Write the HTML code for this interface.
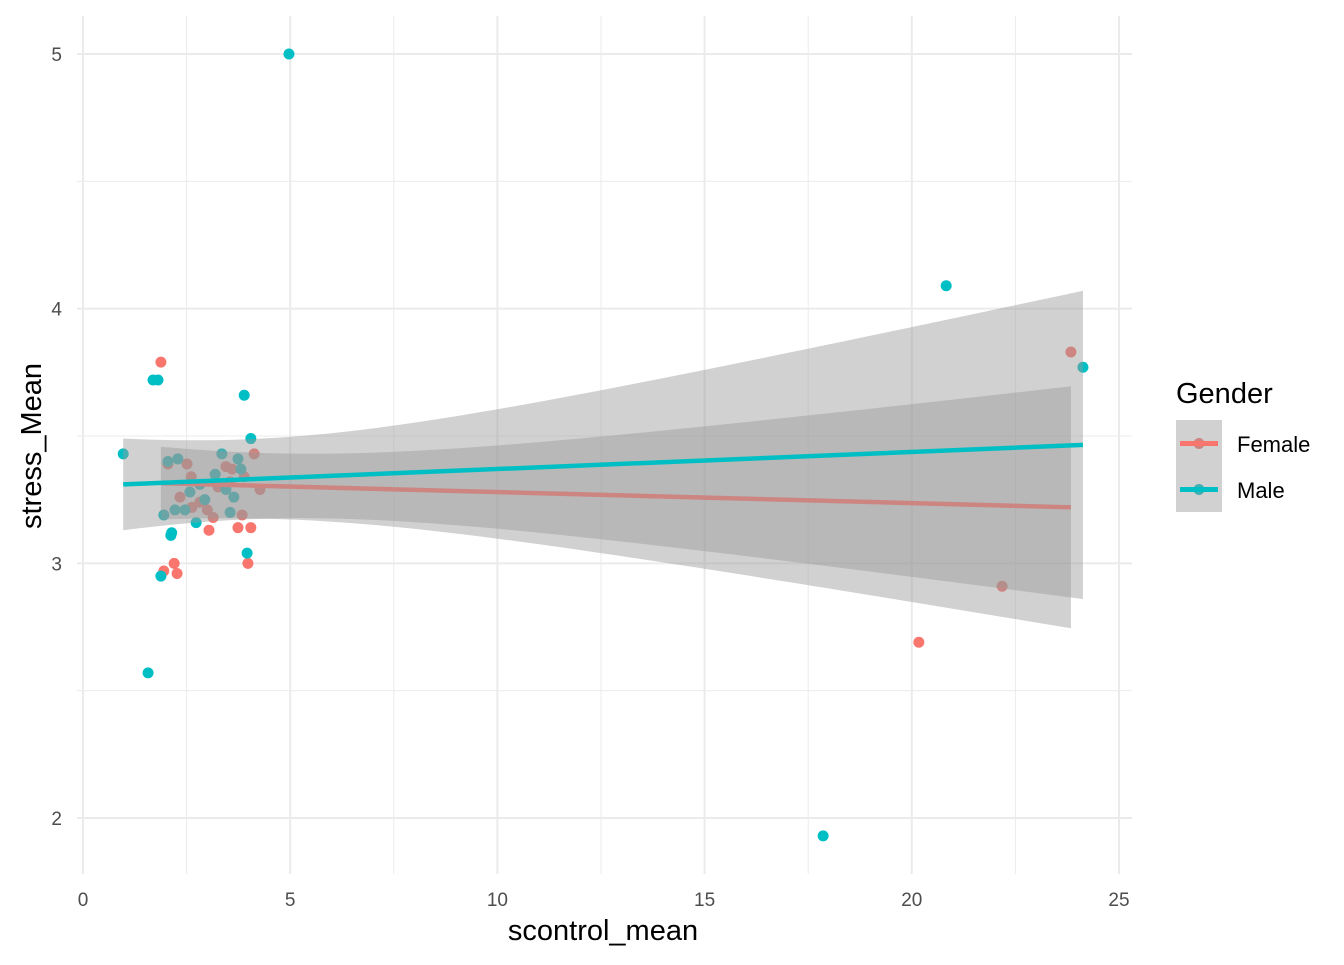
<!DOCTYPE html>
<html><head><meta charset="utf-8"><style>
body{margin:0;background:#fff;}
svg text{font-family:"Liberation Sans",Arial,sans-serif;}
</style></head><body>
<svg id="chart" width="1344" height="960" xmlns="http://www.w3.org/2000/svg">
<g id="grid"></g>
<g id="points"></g>
<g id="smooth"></g>
<g id="axes"></g>
<text x="603" y="940" font-size="29" text-anchor="middle" fill="#000">scontrol_mean</text>
<text transform="translate(41,446) rotate(-90)" font-size="29" text-anchor="middle" fill="#000">stress_Mean</text>
<g>
<text x="1176" y="403" font-size="29" fill="#000">Gender</text>
<rect x="1176" y="420" width="46" height="92" fill="#fff"/>
<g>
<circle cx="1199" cy="443.5" r="5.5" fill="#F8766D"/>
<rect x="1176" y="420" width="46" height="46" fill="rgba(153,153,153,0.45)"/>
<line x1="1180" y1="443.5" x2="1218" y2="443.5" stroke="#F8766D" stroke-width="5"/>
<text x="1237" y="452" font-size="22" fill="#000">Female</text></g>
<g>
<circle cx="1199" cy="489.5" r="5.5" fill="#00BFC4"/>
<rect x="1176" y="466" width="46" height="46" fill="rgba(153,153,153,0.45)"/>
<line x1="1180" y1="489.5" x2="1218" y2="489.5" stroke="#00BFC4" stroke-width="5"/>
<text x="1237" y="498" font-size="22" fill="#000">Male</text></g>
</g>
</svg>
<script>
const xTicks=[0,5,10,15,20,25];
const yTicks=[2,3,4,5];
const maleX=[0.97,4.97,20.83,24.13,17.86,1.57,1.69,1.81,3.89,4.05,3.96,1.88,2.12,1.95,2.05,2.29,3.35,3.74,3.81,2.73,3.55,3.64,2.22,2.46,3.19,2.94,2.58,2.82,3.45,2.14];
const maleY=[3.43,5.0,4.09,3.77,1.93,2.57,3.72,3.72,3.66,3.49,3.04,2.95,3.11,3.19,3.40,3.41,3.43,3.41,3.37,3.16,3.2,3.26,3.21,3.21,3.35,3.25,3.28,3.31,3.29,3.12];
const femaleX=[1.88,23.84,22.18,20.17,2.20,2.27,1.95,3.98,3.74,4.05,3.04,4.13,4.27,3.84,2.51,2.34,2.61,3.14,3.45,2.63,2.05,2.82,3.26,3.89,3.55,3.6,3.0];
const femaleY=[3.79,3.83,2.91,2.69,3.0,2.96,2.97,3.0,3.14,3.14,3.13,3.43,3.29,3.19,3.39,3.26,3.34,3.18,3.38,3.22,3.39,3.24,3.30,3.34,3.32,3.37,3.21];
// fitted lines: [x0,y0,x1,y1] and band params [a,b,center]
const maleLine=[0.97,3.31,24.13,3.465];
const femaleLine=[1.88,3.315,23.84,3.22];
const maleBand=[0.0247,0.000843,4.0];
const femaleBand=[0.0166,0.000559,4.5];

const X=v=>83+v*41.44, Y=v=>54+(5-v)*254.67;
const NS="http://www.w3.org/2000/svg";
function mk(t,a,p){const e=document.createElementNS(NS,t);for(const k in a)e.setAttribute(k,a[k]);p.appendChild(e);return e;}
const grid=document.getElementById('grid'),axes=document.getElementById('axes');
const L=77,R=1132,T=16,B=874;
for(let i=0;i<xTicks.length;i++){const v=xTicks[i];
 if(i<xTicks.length-1){const m=mk('line',{x1:X(v+2.5),x2:X(v+2.5),y1:T,y2:B,stroke:'#ebebeb','stroke-width':1},grid);}
 const g=mk('line',{x1:X(v),x2:X(v),y1:T,y2:B,stroke:'#ebebeb','stroke-width':2},grid);
 const t=mk('text',{x:X(v),y:906,'font-size':19,'text-anchor':'middle',fill:'#4d4d4d'},axes);t.textContent=v;}
for(let i=0;i<yTicks.length;i++){const v=yTicks[i];
 if(i<yTicks.length-1){const m=mk('line',{x1:L,x2:R,y1:Y(v+0.5),y2:Y(v+0.5),stroke:'#ebebeb','stroke-width':1},grid);}
 const g=mk('line',{x1:L,x2:R,y1:Y(v),y2:Y(v),stroke:'#ebebeb','stroke-width':2},grid);
 const t=mk('text',{x:62,y:Y(v)+7,'font-size':19,'text-anchor':'end',fill:'#4d4d4d'},axes);t.textContent=v;}
const pts=document.getElementById('points');
femaleX.forEach((x,i)=>{const c=mk('circle',{cx:X(x),cy:Y(femaleY[i]),r:5.5,fill:'#F8766D'},pts);});
maleX.forEach((x,i)=>{const c=mk('circle',{cx:X(x),cy:Y(maleY[i]),r:5.5,fill:'#00BFC4'},pts);});
const sm=document.getElementById('smooth');
function band(line,bp,name){const [x0,y0,x1,y1]=line,up=[],lo=[];
 for(let i=0;i<=60;i++){const x=x0+(x1-x0)*i/60,y=y0+(y1-y0)*(x-x0)/(x1-x0),h=Math.sqrt(bp[0]+bp[1]*(x-bp[2])**2);
  up.push(X(x)+','+Y(y+h));lo.unshift(X(x)+','+Y(y-h));}
 const p=mk('polygon',{points:up.concat(lo).join(' '),fill:'rgba(153,153,153,0.45)'},sm);}
function ln(l,col,name){const e=mk('line',{x1:X(l[0]),y1:Y(l[1]),x2:X(l[2]),y2:Y(l[3]),stroke:col,'stroke-width':4.5},sm);}
band(femaleLine,femaleBand,'female-confidence-band');
ln(femaleLine,'#F8766D','female-regression-line');
band(maleLine,maleBand,'male-confidence-band');
ln(maleLine,'#00BFC4','male-regression-line');
</script>
</body></html>
